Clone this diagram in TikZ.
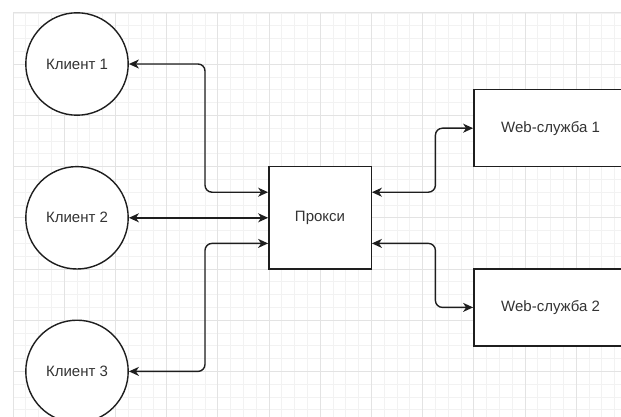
\documentclass[tikz,border=0pt]{standalone}
\usepackage{fontspec}
\setmainfont{Liberation Sans}
\usetikzlibrary{arrows.meta}
\definecolor{minorgrid}{HTML}{F2F2F2}
\definecolor{majorgrid}{HTML}{E3E3E3}
\definecolor{ink}{HTML}{1E1E1E}
\definecolor{txt}{HTML}{333333}
\tikzset{
  client/.style={circle, draw=ink, line width=1.4pt, fill=white, minimum size=102.4pt, inner sep=0pt,
    font=\fontsize{15}{18}\selectfont, text=txt},
  boxnode/.style={rectangle, draw=ink, line width=1.4pt, fill=white, inner sep=0pt,
    font=\fontsize{15}{18}\selectfont, text=txt},
  conn/.style={draw=ink, line width=1.4pt, rounded corners=7pt,
    {Stealth[length=10pt,width=9pt,inset=3pt]}-{Stealth[length=10pt,width=9pt,inset=3pt]}},
}
\begin{document}
\begin{tikzpicture}[x=1pt,y=-1pt]
\useasboundingbox (0,0) rectangle (621,417);
\fill[white] (0,0) rectangle (621,417);
% grid
\begin{scope}
\clip (0,0) rectangle (621,417);
\foreach \i in {0,...,47} {
  \draw[minorgrid, line width=0.8pt] (13+12.8*\i,13) -- (13+12.8*\i,417);
}
\foreach \j in {0,...,31} {
  \draw[minorgrid, line width=0.8pt] (13,13+12.8*\j) -- (621,13+12.8*\j);
}
\foreach \i in {0,...,11} {
  \draw[majorgrid, line width=1pt] (13+51.2*\i,13) -- (13+51.2*\i,417);
}
\foreach \j in {0,...,7} {
  \draw[majorgrid, line width=1pt] (13,13+51.2*\j) -- (621,13+51.2*\j);
}
\end{scope}
% nodes
\begin{scope}
\clip (0,0) rectangle (621,417);
\node[client] (k1) at (77,64) {Клиент 1};
\node[client] (k2) at (77,217.8) {Клиент 2};
\node[client] (k3) at (77,371.4) {Клиент 3};
\node[boxnode, minimum width=102.4pt, minimum height=102.4pt] (px) at (320,217.8) {Прокси};
\node[boxnode, minimum width=153.6pt, minimum height=76.8pt] (w1) at (550.6,128.2) {Web-служба 1};
\node[boxnode, minimum width=153.6pt, minimum height=76.8pt] (w2) at (550.6,307.4) {Web-служба 2};
% connectors
\coordinate (pw1) at ([yshift=25.6pt]px.west);
\coordinate (pw3) at ([yshift=-25.6pt]px.west);
\coordinate (pe1) at ([yshift=25.6pt]px.east);
\coordinate (pe2) at ([yshift=-25.6pt]px.east);
\coordinate (cl1) at (205,128);
\coordinate (cl3) at (205,300);
\coordinate (cr1) at (435.4,160);
\coordinate (cr2) at (435.4,275);
\draw[conn] (k1.east) -| (cl1) |- (pw1);
\draw[conn] (k2.east) -- (px.west);
\draw[conn] (k3.east) -| (cl3) |- (pw3);
\draw[conn] (pe1) -| (cr1) |- (w1.west);
\draw[conn] (pe2) -| (cr2) |- (w2.west);
\end{scope}
\end{tikzpicture}
\end{document}
